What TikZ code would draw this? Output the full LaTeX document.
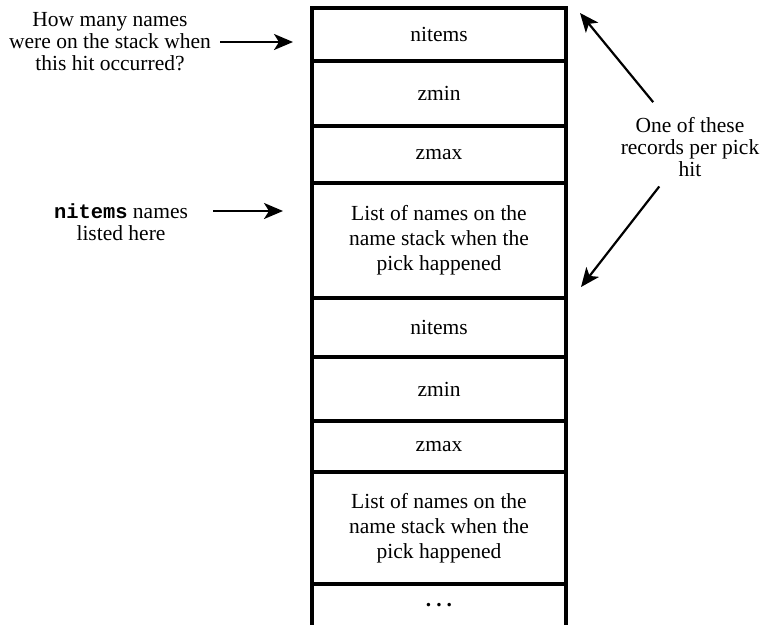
\documentclass[tikz,border=0pt]{standalone}
\usepackage{fontspec}
\setmainfont{Liberation Serif}
\setmonofont{Liberation Mono}[Scale=0.95]
\usetikzlibrary{positioning,arrows.meta}
\tikzset{
  hitfont/.style={font=\fontsize{21.5}{22}\selectfont},
  hitcell/.style={draw, line width=3.5pt, minimum width=254pt, inner sep=0pt,
    outer sep=0pt, align=center, font=\fontsize{21.5}{25}\selectfont},
  hitnote/.style={align=center, inner sep=2pt},
  hitarrow/.style={-{Stealth[length=19pt, width=16pt, inset=5pt]}, line width=2.2pt},
}

\begin{document}
\begin{tikzpicture}[x=1pt,y=-1pt,hitfont]
		\useasboundingbox (0,0) rectangle (762,624);

		% First hit record
		\node[hitcell, minimum height=53pt] (nitemsA) at (439,34.5) {nitems};
		\node[hitcell, minimum height=65pt, below=0pt of nitemsA] (zminA) {zmin};
		\node[hitcell, minimum height=57pt, below=0pt of zminA] (zmaxA) {zmax};
		\node[hitcell, minimum height=115pt, below=0pt of zmaxA] (listA)
		{List of names on the\\name stack when the\\pick happened};

		% Second hit record
		\node[hitcell, minimum height=59pt, below=0pt of listA] (nitemsB) {nitems};
		\node[hitcell, minimum height=64pt, below=0pt of nitemsB] (zminB) {zmin};
		\node[hitcell, minimum height=51pt, below=0pt of zminB] (zmaxB) {zmax};
		\node[hitcell, minimum height=112pt, below=0pt of zmaxB] (listB)
		{List of names on the\\name stack when the\\pick happened};

		% Open end of the buffer
		\node[hitcell, draw=none, minimum height=42pt, below=0pt of listB] (more)
		{\raisebox{-1pt}{\textbf{.\hspace{5pt}.\hspace{5pt}.}}};
		\draw[line width=3.5pt] (more.north west) -- (more.south west);
		\draw[line width=3.5pt] (more.north east) -- (more.south east);

		% Notes on the left
		\node[hitnote] (howmany) at (110,42)
		{How many names\\were on the stack when\\this hit occurred?};
		\coordinate (howmanytail) at (220,42);
		\draw[hitarrow, shorten >=19pt] (howmanytail) -- (howmanytail -| nitemsA.west);

		\node[hitnote] (listed) at (121,222)
		{\textbf{\texttt{nitems}} names\\listed here};
		\coordinate (listedtail) at (213,211);
		\draw[hitarrow, shorten >=29pt] (listedtail) -- (listedtail -| listA.west);

		% Note on the right
		\node[hitnote] (records) at (690,147)
		{One of these\\records per pick\\hit};
		\coordinate (tipA) at (580,13);
		\coordinate (tipB) at (581,287);
		\draw[hitarrow, shorten <=58pt] (records.center) -- (tipA);
		\draw[hitarrow, shorten <=50pt] (records.center) -- (tipB);
	\end{tikzpicture}
\end{document}
